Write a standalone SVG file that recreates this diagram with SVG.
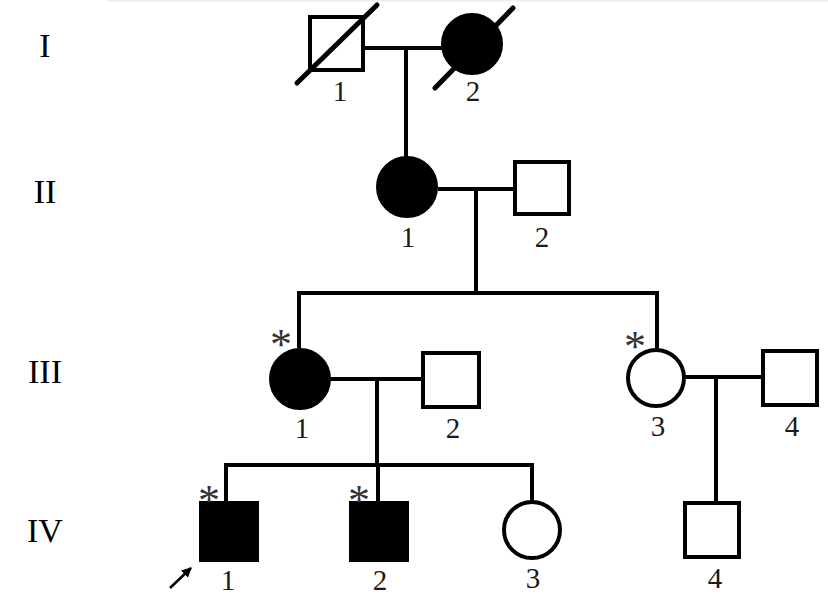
<svg xmlns="http://www.w3.org/2000/svg" width="828" height="603" viewBox="0 0 828 603">
<style>
.ln{stroke:#000;stroke-width:4;fill:none;stroke-linecap:butt}
.sh{stroke:#000;stroke-width:4;fill:#fff}
.af{stroke:#000;stroke-width:4;fill:#000}
.sl{stroke:#000;stroke-width:5;stroke-linecap:round}
.gen{font-family:"Liberation Serif","Times New Roman",serif;font-size:34px;fill:#000;text-anchor:middle}
.lab{font-family:"Liberation Serif","Times New Roman",serif;font-size:29px;fill:#1a1a1a;text-anchor:middle}
.ast{font-family:"Liberation Serif","Times New Roman",serif;font-size:44px;fill:#333;text-anchor:middle}
</style>
<defs>
<marker id="ah" viewBox="0 0 10 10" refX="9" refY="5" markerWidth="4" markerHeight="4" orient="auto" markerUnits="strokeWidth">
<path d="M0,0 L10,5 L0,10 z" fill="#000"/>
</marker>
</defs>
<rect x="0" y="0" width="828" height="603" fill="#fff"/>
<rect x="107" y="0" width="721" height="1.5" fill="#eeeeee"/>
<g id="generations">
<text class="gen" x="45" y="57">I</text>
<text class="gen" x="45" y="203">II</text>
<text class="gen" x="45" y="383">III</text>
<text class="gen" x="45" y="542">IV</text>
</g>
<g id="connectors">
<line class="ln" x1="363" y1="48" x2="442" y2="48"/>
<line class="ln" x1="406" y1="48" x2="406" y2="157"/>
<line class="ln" x1="438" y1="189" x2="515" y2="189"/>
<line class="ln" x1="476" y1="189" x2="476" y2="293"/>
<polyline class="ln" points="299,348 299,293 657,293 657,348"/>
<line class="ln" x1="331" y1="379" x2="423" y2="379"/>
<line class="ln" x1="377" y1="379" x2="377" y2="465"/>
<polyline class="ln" points="226,503 226,465 532,465 532,501"/>
<line class="ln" x1="378" y1="465" x2="378" y2="503"/>
<line class="ln" x1="685" y1="377" x2="763" y2="377"/>
<line class="ln" x1="716" y1="377" x2="716" y2="503"/>
</g>
<g id="I-1">
<rect class="sh" x="310" y="17" width="53" height="53"/>
<line class="sl" x1="297" y1="83" x2="377" y2="5"/>
<text class="lab" x="340" y="101">1</text>
</g>
<g id="I-2">
<circle class="af" cx="472" cy="44" r="29"/>
<line class="sl" x1="435" y1="88" x2="513" y2="8"/>
<text class="lab" x="473" y="101">2</text>
</g>
<g id="II-1">
<circle class="af" cx="407" cy="187" r="29"/>
<text class="lab" x="408" y="247">1</text>
</g>
<g id="II-2">
<rect class="sh" x="515" y="162" width="54" height="52"/>
<text class="lab" x="542" y="247">2</text>
</g>
<g id="III-1">
<circle class="af" cx="300" cy="379" r="29"/>
<text class="ast" x="281" y="359">*</text>
<text class="lab" x="302" y="438">1</text>
</g>
<g id="III-2">
<rect class="sh" x="423" y="353" width="56" height="54"/>
<text class="lab" x="453" y="438">2</text>
</g>
<g id="III-3">
<circle class="sh" cx="656" cy="378" r="28"/>
<text class="ast" x="635" y="361">*</text>
<text class="lab" x="658" y="436">3</text>
</g>
<g id="III-4">
<rect class="sh" x="763" y="351" width="54" height="54"/>
<text class="lab" x="792" y="436">4</text>
</g>
<g id="IV-1">
<rect class="af" x="201" y="503" width="56" height="57"/>
<text class="ast" x="209" y="515">*</text>
<line x1="170" y1="588" x2="191" y2="568" stroke="#000" stroke-width="2.5" marker-end="url(#ah)"/>
<text class="lab" x="228" y="590">1</text>
</g>
<g id="IV-2">
<rect class="af" x="351" y="503" width="56" height="57"/>
<text class="ast" x="359" y="515">*</text>
<text class="lab" x="380" y="590">2</text>
</g>
<g id="IV-3">
<circle class="sh" cx="532" cy="530" r="28"/>
<text class="lab" x="533" y="588">3</text>
</g>
<g id="IV-4">
<rect class="sh" x="685" y="503" width="54" height="54"/>
<text class="lab" x="715" y="588">4</text>
</g>
</svg>
